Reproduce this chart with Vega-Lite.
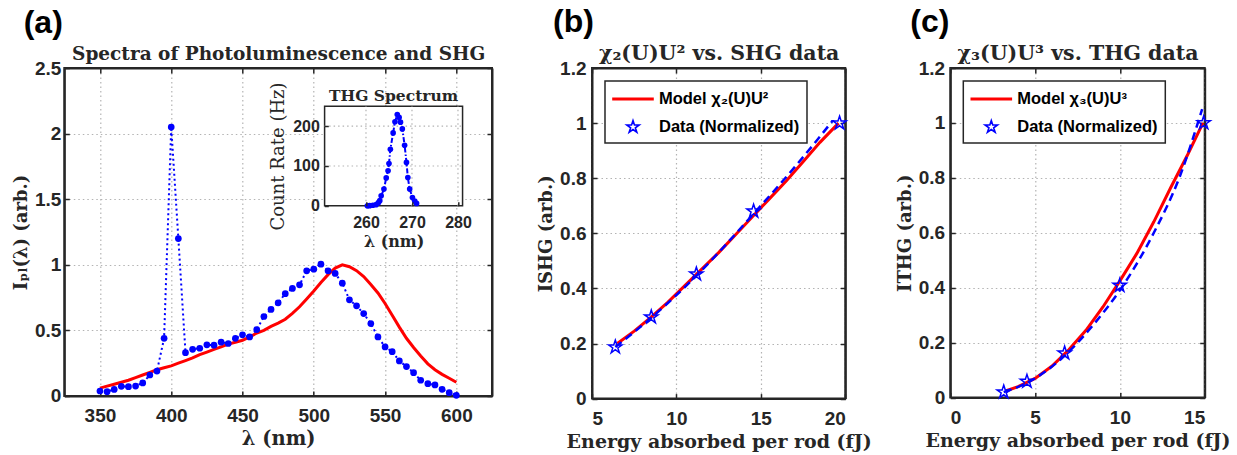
{
  "$schema": "https://vega.github.io/schema/vega-lite/v6.json",
  "padding": {"left": 11.3, "top": 5, "right": 0, "bottom": 0},
  "datasets": {
    "pl": [
      {"wl":350,"v":0.06},{"wl":355,"v":0.075},{"wl":360,"v":0.09},{"wl":365,"v":0.105},{"wl":370,"v":0.12},{"wl":375,"v":0.14},{"wl":380,"v":0.16},{"wl":385,"v":0.18},{"wl":390,"v":0.2},{"wl":395,"v":0.215},{"wl":400,"v":0.23},{"wl":405,"v":0.25},{"wl":410,"v":0.27},{"wl":415,"v":0.29},{"wl":420,"v":0.315},{"wl":425,"v":0.335},{"wl":430,"v":0.355},{"wl":435,"v":0.375},{"wl":440,"v":0.395},{"wl":445,"v":0.41},{"wl":450,"v":0.425},{"wl":455,"v":0.45},{"wl":460,"v":0.48},{"wl":465,"v":0.5},{"wl":470,"v":0.53},{"wl":475,"v":0.555},{"wl":480,"v":0.585},{"wl":485,"v":0.63},{"wl":490,"v":0.68},{"wl":495,"v":0.74},{"wl":500,"v":0.8},{"wl":505,"v":0.865},{"wl":510,"v":0.925},{"wl":515,"v":0.975},{"wl":520,"v":1.0},{"wl":525,"v":0.985},{"wl":530,"v":0.955},{"wl":535,"v":0.91},{"wl":540,"v":0.85},{"wl":545,"v":0.785},{"wl":550,"v":0.705},{"wl":555,"v":0.615},{"wl":560,"v":0.525},{"wl":565,"v":0.44},{"wl":570,"v":0.37},{"wl":575,"v":0.305},{"wl":580,"v":0.245},{"wl":585,"v":0.2},{"wl":590,"v":0.165},{"wl":595,"v":0.135},{"wl":600,"v":0.105}
    ],
    "shg": [
      {"wl":350,"v":0.038},{"wl":355,"v":0.033},{"wl":360,"v":0.05},{"wl":365,"v":0.074},{"wl":370,"v":0.071},{"wl":375,"v":0.076},{"wl":380,"v":0.1},{"wl":385,"v":0.16},{"wl":390,"v":0.19},{"wl":395,"v":0.44},{"wl":400,"v":2.05},{"wl":405,"v":1.2},{"wl":410,"v":0.33},{"wl":415,"v":0.356},{"wl":420,"v":0.364},{"wl":425,"v":0.39},{"wl":430,"v":0.387},{"wl":435,"v":0.41},{"wl":440,"v":0.4},{"wl":445,"v":0.44},{"wl":450,"v":0.466},{"wl":455,"v":0.45},{"wl":460,"v":0.506},{"wl":465,"v":0.606},{"wl":470,"v":0.66},{"wl":475,"v":0.71},{"wl":480,"v":0.78},{"wl":485,"v":0.82},{"wl":490,"v":0.847},{"wl":495,"v":0.954},{"wl":500,"v":0.967},{"wl":505,"v":1.005},{"wl":510,"v":0.954},{"wl":515,"v":0.934},{"wl":520,"v":0.86},{"wl":525,"v":0.733},{"wl":530,"v":0.687},{"wl":535,"v":0.628},{"wl":540,"v":0.552},{"wl":545,"v":0.45},{"wl":550,"v":0.374},{"wl":555,"v":0.338},{"wl":560,"v":0.267},{"wl":565,"v":0.224},{"wl":570,"v":0.178},{"wl":575,"v":0.12},{"wl":580,"v":0.094},{"wl":585,"v":0.084},{"wl":590,"v":0.051},{"wl":595,"v":0.025},{"wl":600,"v":0.005}
    ],
    "thg": [
      {"wl":260.3,"c":0},{"wl":260.8,"c":0.5},{"wl":261.5,"c":1.5},{"wl":262.2,"c":3},{"wl":262.7,"c":8},{"wl":263.0,"c":13},{"wl":263.3,"c":25},{"wl":263.9,"c":42},{"wl":264.4,"c":70},{"wl":264.8,"c":88},{"wl":265.0,"c":106},{"wl":265.3,"c":142},{"wl":265.9,"c":183},{"wl":266.3,"c":211},{"wl":266.8,"c":229},{"wl":267.2,"c":222},{"wl":267.5,"c":210},{"wl":267.9,"c":193},{"wl":268.4,"c":152},{"wl":268.8,"c":109},{"wl":269.1,"c":71},{"wl":269.5,"c":42},{"wl":270.1,"c":21},{"wl":270.6,"c":12},{"wl":271.0,"c":6}
    ],
    "b_model": [
      {"e":6.5,"v":0.2},{"e":7.5,"v":0.245},{"e":8.5,"v":0.296},{"e":9.5,"v":0.35},{"e":10.5,"v":0.41},{"e":11.5,"v":0.47},{"e":12.5,"v":0.53},{"e":13.5,"v":0.595},{"e":14.5,"v":0.66},{"e":15.5,"v":0.725},{"e":16.5,"v":0.79},{"e":17.5,"v":0.86},{"e":18.5,"v":0.93},{"e":19.6,"v":1.0}
    ],
    "b_dash": [
      {"e":6.38,"v":0.187},{"e":8.5,"v":0.293},{"e":11.2,"v":0.447},{"e":14.6,"v":0.673},{"e":17.0,"v":0.84},{"e":19.3,"v":1.012}
    ],
    "b_data": [
      {"e":6.38,"v":0.187,"s":"Data (Normalized)"},{"e":8.51,"v":0.296,"s":"Data (Normalized)"},{"e":11.18,"v":0.452,"s":"Data (Normalized)"},{"e":14.57,"v":0.68,"s":"Data (Normalized)"},{"e":19.66,"v":1.0,"s":"Data (Normalized)"}
    ],
    "c_model": [
      {"e":3.3,"v":0.025},{"e":4,"v":0.04},{"e":5,"v":0.07},{"e":6,"v":0.115},{"e":7,"v":0.175},{"e":8,"v":0.245},{"e":9,"v":0.33},{"e":10,"v":0.425},{"e":11,"v":0.525},{"e":12,"v":0.64},{"e":13,"v":0.765},{"e":14,"v":0.885},{"e":14.9,"v":1.0}
    ],
    "c_dash": [
      {"e":3.15,"v":0.02},{"e":4.5,"v":0.053},{"e":6.7,"v":0.15},{"e":8.5,"v":0.27},{"e":10.1,"v":0.4},{"e":12,"v":0.6},{"e":13.5,"v":0.8},{"e":14.85,"v":1.05}
    ],
    "c_data": [
      {"e":3.15,"v":0.02,"s":"Data (Normalized)"},{"e":4.52,"v":0.059,"s":"Data (Normalized)"},{"e":6.74,"v":0.162,"s":"Data (Normalized)"},{"e":9.99,"v":0.408,"s":"Data (Normalized)"},{"e":14.94,"v":1.0,"s":"Data (Normalized)"}
    ]
  },
  "bounds": "flush",
  "spacing": 99.7,
  "hconcat": [
    {
      "width": 427.7,
      "height": 328,
      "title": {"text": "(a)", "dx": -40.6},
      "layer": [
        {
          "layer": [
            {
              "data": {"name": "pl"},
              "mark": {"type": "line", "color": "#ff0000", "strokeWidth": 3},
              "encoding": {
                "x": {"field": "wl", "type": "quantitative", "scale": {"domain": [325, 625], "nice": false, "zero": false},
                      "axis": {"orient": "bottom", "values": [350, 400, 450, 500, 550, 600], "format": "~r", "grid": true, "title": "λ (nm)", "titleFontSize": 19.5}},
                "y": {"field": "v", "type": "quantitative", "scale": {"domain": [0, 2.5], "nice": false},
                      "axis": {"orient": "left", "values": [0, 0.5, 1, 1.5, 2, 2.5], "format": "~r", "grid": true, "title": "Iₚₗ(λ) (arb.)", "labelPadding": 8.5}}
              }
            },
            {
              "data": {"name": "shg"},
              "mark": {"type": "line", "color": "#0000ff", "strokeWidth": 2, "strokeDash": [2, 3]},
              "encoding": {
                "x": {"field": "wl", "type": "quantitative", "scale": {"domain": [325, 625], "nice": false, "zero": false},
                      "axis": {"orient": "top", "values": [350, 400, 450, 500, 550, 600], "labels": false, "grid": false, "title": "Spectra of Photoluminescence and SHG", "titlePadding": 4, "titleFontSize": 18.5}},
                "y": {"field": "v", "type": "quantitative", "scale": {"domain": [0, 2.5], "nice": false},
                      "axis": {"orient": "right", "values": [0, 0.5, 1, 1.5, 2, 2.5], "labels": false, "grid": false, "title": null}}
              }
            },
            {
              "data": {"name": "shg"},
              "mark": {"type": "circle", "color": "#0000ff", "size": 45, "opacity": 1},
              "encoding": {
                "x": {"field": "wl", "type": "quantitative", "scale": {"domain": [325, 625], "nice": false, "zero": false}, "axis": null},
                "y": {"field": "v", "type": "quantitative", "scale": {"domain": [0, 2.5], "nice": false}, "axis": null}
              }
            }
          ],
          "resolve": {"axis": {"x": "independent", "y": "independent"}}
        },
        {
          "layer": [
            {
              "data": {"values": [{}]},
              "mark": {"type": "rect", "fill": "white", "stroke": "#262626", "strokeWidth": 1.5},
              "encoding": {
                "x": {"datum": 251, "type": "quantitative", "scale": {"domain": [194.4, 287.4], "nice": false, "zero": false},
                      "axis": {"orient": "bottom", "offset": -190.3, "zindex": 2, "values": [260, 270, 280], "format": "~r", "domain": false, "grid": false, "tickSize": -4, "labelFontSize": 16, "labelPadding": 13, "title": "λ (nm)", "titleFontSize": 16, "titlePadding": 3, "titleX": 329.3}},
                "x2": {"datum": 281},
                "y": {"datum": 0, "type": "quantitative", "scale": {"domain": [-477.4, 346], "nice": false, "zero": false},
                      "axis": {"orient": "left", "offset": -260, "zindex": 2, "values": [0, 100, 200], "format": "~r", "domain": false, "grid": false, "tickSize": -4, "labelFontSize": 16, "labelPadding": 9, "title": "Count Rate (Hz)", "titleFontWeight": "normal", "titleFontSize": 18, "titlePadding": 5, "titleY": 88}},
                "y2": {"datum": 250}
              }
            },
            {
              "data": {"values": [{"g": 260}, {"g": 270}, {"g": 280}]},
              "mark": {"type": "rule", "color": "#b3b3b3", "strokeDash": [1.5, 3], "strokeWidth": 1.2},
              "encoding": {
                "x": {"field": "g", "type": "quantitative", "scale": {"domain": [194.4, 287.4], "nice": false, "zero": false}, "axis": null},
                "y": {"datum": 0, "type": "quantitative", "scale": {"domain": [-477.4, 346], "nice": false, "zero": false}, "axis": null},
                "y2": {"datum": 250}
              }
            },
            {
              "data": {"values": [{"g": 100}, {"g": 200}]},
              "mark": {"type": "rule", "color": "#b3b3b3", "strokeDash": [1.5, 3], "strokeWidth": 1.2},
              "encoding": {
                "y": {"field": "g", "type": "quantitative", "scale": {"domain": [-477.4, 346], "nice": false, "zero": false}, "axis": null},
                "x": {"datum": 251, "type": "quantitative", "scale": {"domain": [194.4, 287.4], "nice": false, "zero": false}, "axis": null},
                "x2": {"datum": 281}
              }
            },
            {
              "data": {"name": "thg"},
              "mark": {"type": "line", "color": "#0000ff", "strokeWidth": 2, "strokeDash": [5, 2, 1.5, 2]},
              "encoding": {
                "x": {"field": "wl", "type": "quantitative", "scale": {"domain": [194.4, 287.4], "nice": false, "zero": false}, "axis": null},
                "y": {"field": "c", "type": "quantitative", "scale": {"domain": [-477.4, 346], "nice": false, "zero": false}, "axis": null}
              }
            },
            {
              "data": {"name": "thg"},
              "mark": {"type": "circle", "color": "#0000ff", "size": 32, "opacity": 1},
              "encoding": {
                "x": {"field": "wl", "type": "quantitative", "scale": {"domain": [194.4, 287.4], "nice": false, "zero": false}, "axis": null},
                "y": {"field": "c", "type": "quantitative", "scale": {"domain": [-477.4, 346], "nice": false, "zero": false}, "axis": null}
              }
            },
            {
              "data": {"values": [{"t": "THG Spectrum"}]},
              "mark": {"type": "text", "font": "DejaVu Serif", "fontWeight": "bold", "fontSize": 15.5, "color": "#262626", "align": "center", "baseline": "alphabetic"},
              "encoding": {
                "text": {"field": "t"},
                "x": {"datum": 266, "type": "quantitative", "scale": {"domain": [194.4, 287.4], "nice": false, "zero": false}, "axis": null},
                "y": {"datum": 264, "type": "quantitative", "scale": {"domain": [-477.4, 346], "nice": false, "zero": false}, "axis": null}
              }
            }
          ],
          "resolve": {"axis": {"x": "independent", "y": "independent"}}
        }
      ],
      "resolve": {"scale": {"x": "independent", "y": "independent"}, "axis": {"x": "independent", "y": "independent"}}
    },
    {
      "bounds": "flush",
      "spacing": 104.3,
      "hconcat": [
        {
          "width": 253.3,
          "height": 330.6,
          "title": {"text": "(b)", "dx": -39},
          "layer": [
            {
              "data": {"name": "b_model"},
              "mark": {"type": "line", "color": "#ff0000", "strokeWidth": 3},
              "encoding": {
                "x": {"field": "e", "type": "quantitative", "scale": {"domain": [5, 20], "nice": false, "zero": false},
                      "axis": {"orient": "bottom", "values": [5, 10, 15, 20], "format": "~r", "grid": true, "title": "Energy absorbed per rod (fJ)", "titleFontSize": 19}},
                "y": {"field": "v", "type": "quantitative", "scale": {"domain": [0, 1.2], "nice": false},
                      "axis": {"orient": "left", "values": [0, 0.2, 0.4, 0.6, 0.8, 1, 1.2], "format": "~r", "grid": true, "title": "ISHG (arb.)", "labelPadding": 11}}
              }
            },
            {
              "data": {"name": "b_dash"},
              "mark": {"type": "line", "color": "#0000ff", "strokeWidth": 2.5, "strokeDash": [8, 5], "interpolate": "monotone"},
              "encoding": {
                "x": {"field": "e", "type": "quantitative", "scale": {"domain": [5, 20], "nice": false, "zero": false},
                      "axis": {"orient": "top", "values": [5, 10, 15, 20], "labels": false, "grid": false, "title": "χ₂(U)U²  vs. SHG data", "titlePadding": 4, "titleFontSize": 20.5}},
                "y": {"field": "v", "type": "quantitative", "scale": {"domain": [0, 1.2], "nice": false},
                      "axis": {"orient": "right", "values": [0, 0.2, 0.4, 0.6, 0.8, 1, 1.2], "labels": false, "grid": false, "title": null}}
              }
            },
            {
              "data": {"name": "b_data"},
              "mark": {"type": "point", "filled": false, "strokeWidth": 1.5, "size": 466, "opacity": 1},
              "encoding": {
                "x": {"field": "e", "type": "quantitative", "scale": {"domain": [5, 20], "nice": false, "zero": false}, "axis": null},
                "y": {"field": "v", "type": "quantitative", "scale": {"domain": [0, 1.2], "nice": false}, "axis": null},
                "color": {"field": "s", "type": "nominal", "scale": {"domain": ["Model χ₂(U)U²", "Data (Normalized)"], "range": ["#ff0000", "#0000ff"]}, "legend": {"title": null, "encode": {"symbols": {"fill": {"value": "transparent"}}}}},
                "shape": {"field": "s", "type": "nominal", "scale": {"domain": ["Model χ₂(U)U²", "Data (Normalized)"], "range": ["M-2,-0.08L2,-0.08L2,0.08L-2,0.08Z", "M0,-0.65L0.146,-0.201L0.618,-0.201L0.236,0.077L0.382,0.526L0,0.248L-0.382,0.526L-0.236,0.077L-0.618,-0.201L-0.146,-0.201Z"]}, "legend": {"title": null, "encode": {"symbols": {"fill": {"value": "transparent"}}}}}
              }
            }
          ],
          "resolve": {"axis": {"x": "independent", "y": "independent"}}
        },
        {
          "width": 254.4,
          "height": 329.6,
          "title": {"text": "(c)", "dx": -40},
          "layer": [
            {
              "data": {"name": "c_model"},
              "mark": {"type": "line", "color": "#ff0000", "strokeWidth": 3},
              "encoding": {
                "x": {"field": "e", "type": "quantitative", "scale": {"domain": [0, 15], "nice": false, "zero": false},
                      "axis": {"orient": "bottom", "values": [0, 5, 10, 15], "format": "~r", "grid": true, "title": "Energy absorbed per rod (fJ)", "titleFontSize": 19}},
                "y": {"field": "v", "type": "quantitative", "scale": {"domain": [0, 1.2], "nice": false},
                      "axis": {"orient": "left", "values": [0, 0.2, 0.4, 0.6, 0.8, 1, 1.2], "format": "~r", "grid": true, "title": "ITHG (arb.)", "labelPadding": 10.6}}
              }
            },
            {
              "data": {"name": "c_dash"},
              "mark": {"type": "line", "color": "#0000ff", "strokeWidth": 2.5, "strokeDash": [8, 5], "interpolate": "monotone"},
              "encoding": {
                "x": {"field": "e", "type": "quantitative", "scale": {"domain": [0, 15], "nice": false, "zero": false},
                      "axis": {"orient": "top", "values": [0, 5, 10, 15], "labels": false, "grid": false, "title": "χ₃(U)U³  vs. THG data", "titlePadding": 4, "titleFontSize": 20.5}},
                "y": {"field": "v", "type": "quantitative", "scale": {"domain": [0, 1.2], "nice": false},
                      "axis": {"orient": "right", "values": [0, 0.2, 0.4, 0.6, 0.8, 1, 1.2], "labels": false, "grid": false, "title": null}}
              }
            },
            {
              "data": {"name": "c_data"},
              "mark": {"type": "point", "filled": false, "strokeWidth": 1.5, "size": 466, "opacity": 1},
              "encoding": {
                "x": {"field": "e", "type": "quantitative", "scale": {"domain": [0, 15], "nice": false, "zero": false}, "axis": null},
                "y": {"field": "v", "type": "quantitative", "scale": {"domain": [0, 1.2], "nice": false}, "axis": null},
                "color": {"field": "s", "type": "nominal", "scale": {"domain": ["Model χ₃(U)U³", "Data (Normalized)"], "range": ["#ff0000", "#0000ff"]}, "legend": {"title": null, "encode": {"symbols": {"fill": {"value": "transparent"}}}}},
                "shape": {"field": "s", "type": "nominal", "scale": {"domain": ["Model χ₃(U)U³", "Data (Normalized)"], "range": ["M-2,-0.08L2,-0.08L2,0.08L-2,0.08Z", "M0,-0.65L0.146,-0.201L0.618,-0.201L0.236,0.077L0.382,0.526L0,0.248L-0.382,0.526L-0.236,0.077L-0.618,-0.201L-0.146,-0.201Z"]}, "legend": {"title": null, "encode": {"symbols": {"fill": {"value": "transparent"}}}}}
              }
            }
          ],
          "resolve": {"axis": {"x": "independent", "y": "independent"}}
        }
      ],
      "resolve": {"scale": {"color": "independent", "shape": "independent"}, "legend": {"color": "independent", "shape": "independent"}}
    }
  ],
  "config": {
    "background": "white",
    "view": {"stroke": "#262626", "strokeWidth": 2},
    "axis": {
      "labelFont": "Liberation Sans", "labelFontWeight": "bold", "labelFontSize": 19, "labelColor": "#262626",
      "titleFont": "DejaVu Serif", "titleFontWeight": "bold", "titleFontSize": 18, "titleColor": "#262626",
      "domainColor": "#262626", "domainWidth": 2, "tickColor": "#262626", "tickWidth": 1.5, "tickSize": -5,
      "gridColor": "#b3b3b3", "gridDash": [1.5, 3], "gridWidth": 1.2, "gridOpacity": 1,
      "labelPadding": 9, "titlePadding": 4
    },
    "axisBottom": {"labelPadding": 16},
    "legend": {
      "orient": "top-left", "offset": 13,
      "labelFont": "Liberation Sans", "labelFontWeight": "bold", "labelFontSize": 16.5, "labelColor": "#000000",
      "strokeColor": "#262626", "strokeWidth": 1.5, "fillColor": "white",
      "padding": 7, "symbolSize": 400, "symbolStrokeWidth": 1.6, "symbolFillColor": "transparent", "rowPadding": 8, "labelOffset": 15, "symbolOffset": 10
    },
    "title": {"anchor": "start", "frame": "group", "font": "Liberation Sans", "fontSize": 32, "fontWeight": "bold", "color": "#000000", "offset": 4}
  }
}
